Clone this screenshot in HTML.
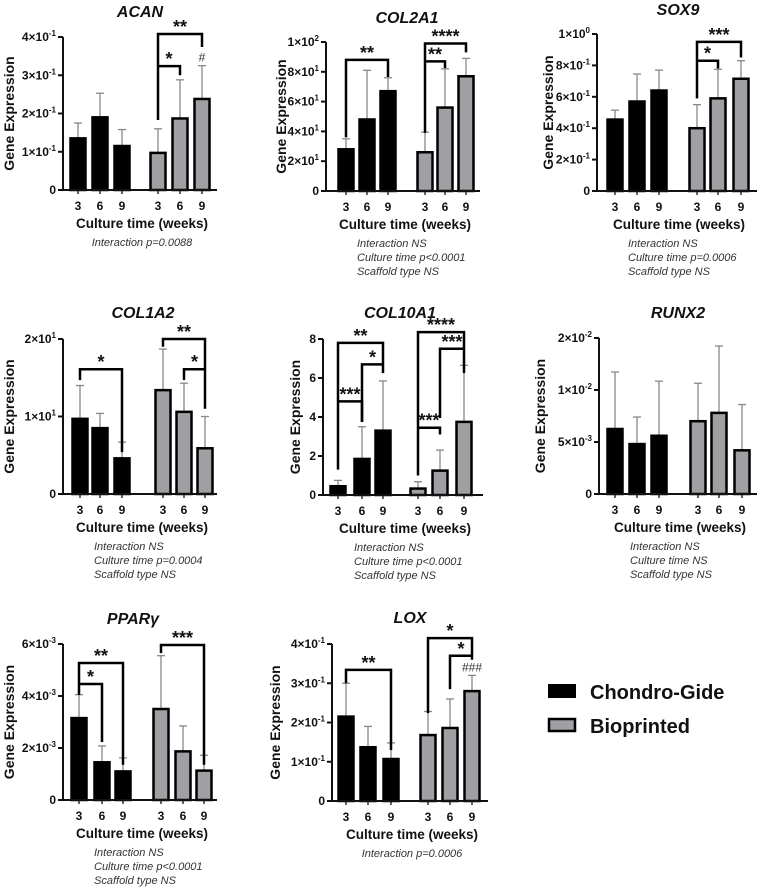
<!DOCTYPE html>
<html><head><meta charset="utf-8">
<style>
html,body{margin:0;padding:0;background:#fff;}
svg{display:block;font-family:"Liberation Sans",Arial,sans-serif;}
</style></head>
<body>
<svg id="fig" width="760" height="888" viewBox="0 0 760 888">
<g>
  <rect x="549" y="685" width="26" height="12" fill="#000" stroke="#000" stroke-width="2"/>
  <text x="590" y="699" font-size="20" font-weight="bold" fill="#111">Chondro-Gide</text>
  <rect x="549" y="719" width="26" height="12" fill="#a0a0a4" stroke="#000" stroke-width="2.5"/>
  <text x="590" y="733" font-size="20" font-weight="bold" fill="#111">Bioprinted</text>
</g>
</svg>
<script>
// ---- data ----
const categories = ["3","6","9","3","6","9"];
const acanValues = [0.135,0.19,0.115,0.097,0.187,0.238];
const acanErrors = [0.175,0.253,0.158,0.16,0.288,0.325];
const col2a1Values = [28,48,67,26,56,77];
const col2a1Errors = [35,81,76,39.5,82,89];
const sox9Values = [0.455,0.57,0.64,0.40,0.59,0.715];
const sox9Errors = [0.515,0.745,0.77,0.55,0.775,0.83];
const col1a2Values = [9.7,8.5,4.6,13.4,10.6,5.9];
const col1a2Errors = [14,10.4,6.7,18.7,14.3,10];
const col10a1Values = [0.45,1.85,3.3,0.33,1.25,3.75];
const col10a1Errors = [0.75,3.5,5.85,0.68,2.3,6.65];
const runx2Values = [0.00625,0.0048,0.0056,0.007,0.0078,0.0042];
const runx2Errors = [0.01346,0.0074,0.0117,0.0113,0.01846,0.0086];
const pparValues = [0.00315,0.00145,0.0011,0.0035,0.00187,0.00113];
const pparErrors = [0.00405,0.00208,0.00162,0.00555,0.00285,0.00172];
const loxValues = [0.215,0.137,0.107,0.168,0.186,0.28];
const loxErrors = [0.30,0.19,0.148,0.228,0.26,0.32];

const acanTicks = [0,0.1,0.2,0.3,0.4];
const acanTickLabels = ["0","1×10<tspan dy='-5' font-size='8'>-1</tspan>","2×10<tspan dy='-5' font-size='8'>-1</tspan>","3×10<tspan dy='-5' font-size='8'>-1</tspan>","4×10<tspan dy='-5' font-size='8'>-1</tspan>"];
const col2a1Ticks = [0,20,40,60,80,100];
const col2a1TickLabels = ["0","2×10<tspan dy='-5' font-size='8'>1</tspan>","4×10<tspan dy='-5' font-size='8'>1</tspan>","6×10<tspan dy='-5' font-size='8'>1</tspan>","8×10<tspan dy='-5' font-size='8'>1</tspan>","1×10<tspan dy='-5' font-size='8'>2</tspan>"];
const sox9Ticks = [0,0.2,0.4,0.6,0.8,1];
const sox9TickLabels = ["0","2×10<tspan dy='-5' font-size='8'>-1</tspan>","4×10<tspan dy='-5' font-size='8'>-1</tspan>","6×10<tspan dy='-5' font-size='8'>-1</tspan>","8×10<tspan dy='-5' font-size='8'>-1</tspan>","1×10<tspan dy='-5' font-size='8'>0</tspan>"];
const col1a2Ticks = [0,10,20];
const col1a2TickLabels = ["0","1×10<tspan dy='-5' font-size='8'>1</tspan>","2×10<tspan dy='-5' font-size='8'>1</tspan>"];
const col10a1Ticks = [0,2,4,6,8];
const col10a1TickLabels = ["0","2","4","6","8"];
const runx2Ticks = [0,0.005,0.01,0.02];
const runx2TickLabels = ["0","5×10<tspan dy='-5' font-size='8'>-3</tspan>","1×10<tspan dy='-5' font-size='8'>-2</tspan>","2×10<tspan dy='-5' font-size='8'>-2</tspan>"];
const pparTicks = [0,0.002,0.004,0.006];
const pparTickLabels = ["0","2×10<tspan dy='-5' font-size='8'>-3</tspan>","4×10<tspan dy='-5' font-size='8'>-3</tspan>","6×10<tspan dy='-5' font-size='8'>-3</tspan>"];
const loxTicks = [0,0.1,0.2,0.3,0.4];
const loxTickLabels = acanTickLabels;

// brackets: [fromBar, toBar, level, leftEnd, rightEnd, label]
const acanBrackets = [[3,5,0.408,0.183,0.374,"**"],[3,4,0.324,0.324,0.30,"*"]];
const col2a1Brackets = [[0,2,88,36,76.5,"**"],[3,5,99,39,93,"****"],[3,4,87,87,82.5,"**"]];
const sox9Brackets = [[3,5,0.95,0.59,0.85,"***"],[3,4,0.83,0.83,0.78,"*"]];
const col1a2Brackets = [[0,2,16.1,14.7,5.4,"*"],[3,5,20,19,11,"**"],[4,5,16.1,14.7,16.1,"*"]];
const col10a1Brackets = [[0,2,7.8,1.3,6.25,"**"],[1,2,6.7,3.75,6.7,"*"],[0,1,4.8,4.8,3.75,"***"],[3,5,8.35,1.0,6.25,"****"],[4,5,7.5,3.95,7.5,"***"],[3,4,3.45,3.45,3.1,"***"]];
const pparBrackets = [[0,2,0.00527,0.00404,0.00135,"**"],[0,1,0.00446,0.00446,0.00223,"*"],[3,5,0.00596,0.00565,0.00135,"***"]];
const loxBrackets = [[0,2,0.334,0.30,0.13,"**"],[3,5,0.415,0.224,0.36,"*"],[4,5,0.37,0.285,0.37,"*"]];

const svg = document.getElementById('fig');
const NS = 'http://www.w3.org/2000/svg';
function mk(tag, attrs, parent){ const e=document.createElementNS(NS,tag); for(const k in attrs) e.setAttribute(k,attrs[k]); parent.appendChild(e); return e; }

function panel(p){
  const g = mk('g',{},svg);
  
  
  const ymax = p.ticks[p.ticks.length-1];
  const Y = p.scale || (v => p.base - (v/ymax)*(p.base-p.top));
  const X = i => p.x0 + p.offs[i];
  const t = mk('text',{x:p.tx,y:p.ty,'text-anchor':'middle','font-size':16,'font-weight':'bold','font-style':'italic',fill:'#111'},g);
  t.textContent = p.title;
  
  
  const yl = mk('text',{transform:`translate(${p.ylx},${(p.top+p.base)/2}) rotate(-90)`,'text-anchor':'middle','font-size':14,'font-weight':'bold',fill:'#111'},g);
  yl.textContent = 'Gene Expression';
  
  
  for(let i=0;i<6;i++){
    const cx = X(i), y = Y(p.values[i]), ye = Y(p.errors[i]);
    const col = '#888';
    const el = mk('line',{x1:cx,x2:cx,y1:y,y2:ye,stroke:col,'stroke-width':1.3},g);
    
    
    const ec = mk('line',{x1:cx-4,x2:cx+4,y1:ye,y2:ye,stroke:col,'stroke-width':1.3},g);
    
    
    const b = mk('rect',{x:cx-7.5,y:y,width:15,height:p.base-y,fill:i<3?'#000':'#a0a0a4',stroke:'#000','stroke-width':2.5},g);
    
    
    const tk = mk('line',{x1:cx,x2:cx,y1:p.base,y2:p.base+4,stroke:'#111','stroke-width':1.3},g);
    
    
    const tl = mk('text',{x:cx,y:p.base+20,'text-anchor':'middle','font-size':12,'font-weight':'bold',fill:'#111'},g);
    tl.textContent = categories[i];
    
    
  }
  const ax = mk('path',{d:`M${p.x0},${p.top}V${p.base}H${p.xend}`,fill:'none',stroke:'#111','stroke-width':2},g);
  
  
  p.ticks.forEach((v,k)=>{
    const yy = Y(v);
    const tk = mk('line',{x1:p.x0-5,x2:p.x0,y1:yy,y2:yy,stroke:'#111','stroke-width':2},g);
    
    
    const tl = mk('text',{x:p.x0-7,y:yy+4,'text-anchor':'end','font-size':12,'font-weight':'bold',fill:'#111'},g);
    tl.innerHTML = p.tickLabels[k];
    
    
  });
  p.brackets.forEach(br=>{
    const xa=X(br[0]), xb=X(br[1]);
    const pa = mk('path',{d:`M${xa},${Y(br[3])}V${Y(br[2])}H${xb}V${Y(br[4])}`,fill:'none',stroke:'#000','stroke-width':2.5},g);
    
    
    const st = mk('text',{x:(xa+xb)/2,y:Y(br[2])-1,'text-anchor':'middle','font-size':18,'font-weight':'bold',fill:'#111'},g);
    st.textContent = br[5];
    
    
  });
  if(p.hash){
    const h = mk('text',{x:X(5),y:Y(p.errors[5])-4,'text-anchor':'middle','font-size':12,fill:'#333'},g);
    h.textContent = p.hash;
    
    
  }
  const xl = mk('text',{x:(p.x0+p.xend)/2+2,y:p.base+38,'text-anchor':'middle','font-size':13.5,'font-weight':'bold',fill:'#111'},g);
  xl.textContent = 'Culture time (weeks)';
  
  
  p.notes.forEach((n,k)=>{
    const single = p.notes.length===1;
    const nt = mk('text',{x:single?(p.x0+p.xend)/2+2:p.x0+31,y:p.base+56+k*14,'text-anchor':single?'middle':'start','font-size':11,'font-style':'italic',fill:'#333'},g);
    nt.textContent = n;
    
    
  });
}
const offsA=[15,37,59,95,117,139];
panel({id:'acan',title:'ACAN',x0:63,top:37,base:190,xend:217,tx:140,ty:17,ylx:14,offs:offsA,values:acanValues,errors:acanErrors,ticks:acanTicks,tickLabels:acanTickLabels,brackets:acanBrackets,hash:'#',notes:["Interaction p=0.0088"]});
panel({id:'col2a1',title:'COL2A1',x0:326,top:42,base:191,xend:480,tx:407,ty:23,ylx:286,offs:[20,41,62,99,119,140],values:col2a1Values,errors:col2a1Errors,ticks:col2a1Ticks,tickLabels:col2a1TickLabels,brackets:col2a1Brackets,notes:["Interaction NS","Culture time p<0.0001","Scaffold type NS"]});
panel({id:'sox9',title:'SOX9',x0:597,top:34,base:191,xend:757,tx:678,ty:15,ylx:553,offs:[18,40,62,100,121,144],values:sox9Values,errors:sox9Errors,ticks:sox9Ticks,tickLabels:sox9TickLabels,brackets:sox9Brackets,notes:["Interaction NS","Culture time p=0.0006","Scaffold type NS"]});
panel({id:'col1a2',title:'COL1A2',x0:63,top:339,base:494,xend:217,tx:143,ty:318,ylx:14,offs:[17,37,59,100,121,142],values:col1a2Values,errors:col1a2Errors,ticks:col1a2Ticks,tickLabels:col1a2TickLabels,brackets:col1a2Brackets,notes:["Interaction NS","Culture time p=0.0004","Scaffold type NS"]});
panel({id:'col10a1',title:'COL10A1',x0:323,top:339,base:495,xend:483,tx:400,ty:318,ylx:300,offs:[15,39,60,95,117,141],values:col10a1Values,errors:col10a1Errors,ticks:col10a1Ticks,tickLabels:col10a1TickLabels,brackets:col10a1Brackets,notes:["Interaction NS","Culture time p<0.0001","Scaffold type NS"]});
panel({id:'runx2',title:'RUNX2',x0:599,top:338,base:494,xend:757,tx:678,ty:318,ylx:545,offs:[16,38,60,99,120,143],values:runx2Values,errors:runx2Errors,ticks:runx2Ticks,tickLabels:runx2TickLabels,brackets:[],
  scale:v=> v<=0.01 ? 494 - v*10400 : 390 - (v-0.01)*5200,
  notes:["Interaction NS","Culture time NS","Scaffold type NS"]});
panel({id:'ppar',title:'PPARγ',x0:63,top:644,base:800,xend:217,tx:133,ty:624,ylx:14,offs:[16,39,60,98,120,141],values:pparValues,errors:pparErrors,ticks:pparTicks,tickLabels:pparTickLabels,brackets:pparBrackets,notes:["Interaction NS","Culture time p<0.0001","Scaffold type NS"]});
panel({id:'lox',title:'LOX',x0:332,top:644,base:801,xend:488,tx:410,ty:623,ylx:280,offs:[14,36,59,96,118,140],values:loxValues,errors:loxErrors,ticks:loxTicks,tickLabels:loxTickLabels,brackets:loxBrackets,hash:'###',notes:["Interaction p=0.0006"]});
</script>
</body></html>
